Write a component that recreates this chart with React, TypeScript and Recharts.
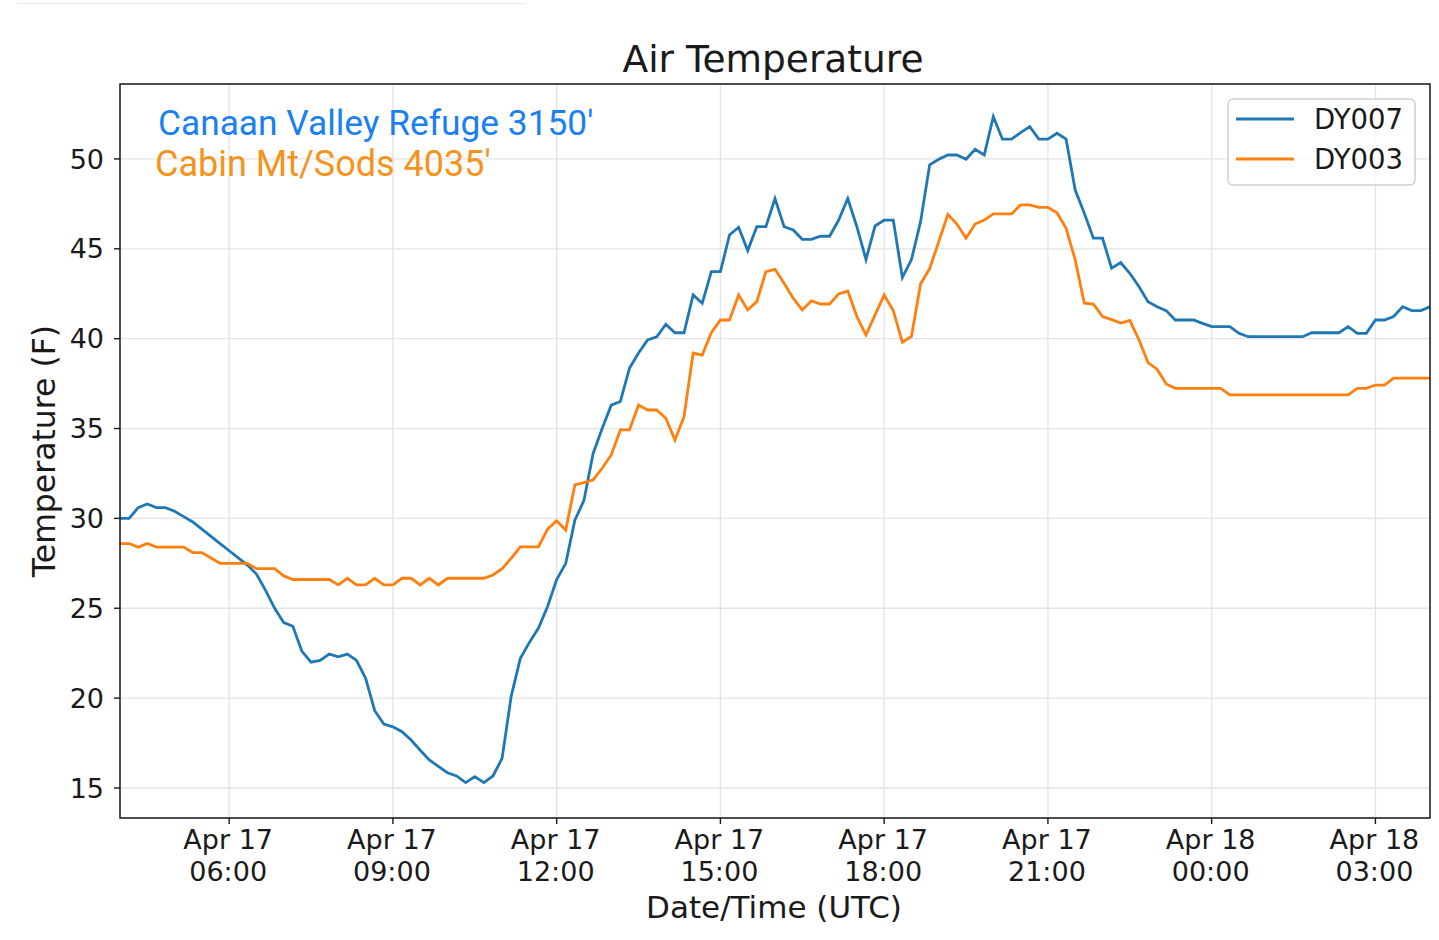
import { CartesianGrid, Legend, Line, LineChart, XAxis, YAxis } from 'recharts';

// Air temperature (F), one reading every 10 minutes, Apr 17 04:00 -> Apr 18 04:00 UTC
const START_HOUR = 4;
const STEP_HOURS = 10 / 60;

const dy007 = [
    30.0, 30.0, 30.6, 30.8, 30.6, 30.6,
    30.4, 30.1, 29.8, 29.4, 29.0, 28.6,
    28.2, 27.8, 27.4, 26.9, 26.0, 25.0,
    24.2, 24.0, 22.6, 22.0, 22.1, 22.45,
    22.3, 22.45, 22.1, 21.1, 19.3, 18.56,
    18.4, 18.13, 17.67, 17.1, 16.56, 16.2,
    15.85, 15.67, 15.3, 15.63, 15.3, 15.67,
    16.65, 20.1, 22.2, 23.1, 23.9, 25.1,
    26.6, 27.5, 29.9, 31.0, 33.6, 35.0,
    36.3, 36.5, 38.35, 39.2, 39.93, 40.1,
    40.8, 40.33, 40.33, 42.43, 41.97, 43.73,
    43.73, 45.77, 46.2, 44.9, 46.23, 46.23,
    47.8, 46.23, 46.05, 45.53, 45.53, 45.7,
    45.7, 46.6, 47.8, 46.23, 44.4, 46.27,
    46.6, 46.6, 43.4, 44.4, 46.5, 49.67,
    49.98, 50.22, 50.22, 49.98, 50.54, 50.22,
    52.35, 51.1, 51.1, 51.46, 51.8, 51.1,
    51.1, 51.43, 51.1, 48.27, 46.98, 45.59,
    45.59, 43.92, 44.23, 43.64, 42.9, 42.06,
    41.78, 41.56, 41.04, 41.04, 41.04, 40.85,
    40.67, 40.67, 40.67, 40.3, 40.11, 40.11,
    40.11, 40.11, 40.11, 40.11, 40.11, 40.33,
    40.33, 40.33, 40.33, 40.67, 40.3, 40.3,
    41.04, 41.04, 41.23, 41.78, 41.56, 41.56,
    41.78,
];

const dy003 = [
    28.6, 28.6, 28.4, 28.6, 28.4, 28.4,
    28.4, 28.4, 28.1, 28.1, 27.8, 27.5,
    27.5, 27.5, 27.5, 27.2, 27.2, 27.2,
    26.8, 26.6, 26.6, 26.6, 26.6, 26.6,
    26.3, 26.67, 26.3, 26.3, 26.67, 26.3,
    26.3, 26.67, 26.67, 26.3, 26.67, 26.3,
    26.67, 26.67, 26.67, 26.67, 26.67, 26.85,
    27.2, 27.78, 28.42, 28.42, 28.42, 29.4,
    29.87, 29.35, 31.86, 31.99, 32.14, 32.79,
    33.53, 34.92, 34.92, 36.31, 36.03, 36.03,
    35.57, 34.36, 35.66, 39.2, 39.09, 40.33,
    41.04, 41.04, 42.43, 41.6, 42.06, 43.73,
    43.86, 43.08, 42.25, 41.6, 42.11, 41.93,
    41.93, 42.49, 42.65, 41.23, 40.2, 41.32,
    42.43, 41.56, 39.8, 40.13, 43.04, 43.9,
    45.4, 46.92, 46.38, 45.59, 46.38, 46.6,
    46.94, 46.94, 46.94, 47.44, 47.44, 47.31,
    47.31, 47.01, 46.14, 44.38, 41.97, 41.93,
    41.23, 41.06, 40.87, 41.02, 39.95, 38.67,
    38.3, 37.48, 37.24, 37.24, 37.24, 37.24,
    37.24, 37.24, 36.87, 36.87, 36.87, 36.87,
    36.87, 36.87, 36.87, 36.87, 36.87, 36.87,
    36.87, 36.87, 36.87, 36.87, 37.24, 37.24,
    37.42, 37.42, 37.8, 37.8, 37.8, 37.8,
    37.8,
];

// hours since Apr 17 00:00 UTC
const majorTicks = [6, 9, 12, 15, 18, 21, 24, 27];
const tickDates = ['Apr 17', 'Apr 17', 'Apr 17', 'Apr 17', 'Apr 17', 'Apr 17', 'Apr 18', 'Apr 18'];
const tickTimes = ['06:00', '09:00', '12:00', '15:00', '18:00', '21:00', '00:00', '03:00'];
const minorTicks = [4, 5, 7, 8, 10, 11, 13, 14, 16, 17, 19, 20, 22, 23, 25, 26, 28];
const yTicks = [15, 20, 25, 30, 35, 40, 45, 50];

const seriesNames = ['DY007', 'DY003'];

const data = dy007.map((v, i) => ({
    t: START_HOUR + i * STEP_HOURS,
    DY007: v,
    DY003: dy003[i],
}));

const BLUE = '#1f77b4';
const ORANGE = '#ff7f0e';
const INK = '#1a1a1a';
const FONT = '"DejaVu Sans", sans-serif';

const DateTick = ({ x, y, payload }: any) => {
    const i = majorTicks.indexOf(payload.value);
    return (
        <g transform={`translate(${x},${y})`}>
            <text textAnchor="middle" fontFamily={FONT} fontSize={27} fill={INK}>
                <tspan x={-1} dy={23}>{tickDates[i]}</tspan>
                <tspan x={-1} dy={32}>{tickTimes[i]}</tspan>
            </text>
        </g>
    );
};

const LegendBox = () => (
    <svg width={190} height={90}>
        <rect x={1} y={1} width={187} height={86} rx={5} fill="#fff" fillOpacity={0.8} stroke="#d0d0d0" strokeWidth={1.5} />
        <line x1={9} x2={67} y1={21} y2={21} stroke={BLUE} strokeWidth={2.8} />
        <line x1={9} x2={67} y1={61} y2={61} stroke={ORANGE} strokeWidth={2.8} />
        <text x={87} y={31} fontFamily={FONT} fontSize={27.5} fill={INK}>{seriesNames[0]}</text>
        <text x={87} y={71} fontFamily={FONT} fontSize={27.5} fill={INK}>{seriesNames[1]}</text>
    </svg>
);

export default function App() {
    return (
        <div style={{ position: 'absolute', left: 0, top: 0, width: 1439, height: 940, background: '#fff' }}>
            <LineChart width={1439} height={940} data={data} margin={{ top: 84, right: 9, left: 0, bottom: 0 }}>
                <CartesianGrid stroke="#e3e3e3" strokeWidth={1.3} />
                <XAxis
                    xAxisId="minor"
                    dataKey="t"
                    type="number"
                    domain={[4, 28]}
                    ticks={minorTicks}
                    allowDataOverflow
                    height={0}
                    axisLine={false}
                    tick={false}
                    tickSize={4}
                    tickLine={{ stroke: INK, strokeWidth: 1.4 }}
                />
                <XAxis
                    dataKey="t"
                    type="number"
                    domain={[4, 28]}
                    ticks={majorTicks}
                    allowDataOverflow
                    height={122}
                    tickSize={6}
                    tickMargin={2}
                    axisLine={false}
                    tickLine={{ stroke: INK, strokeWidth: 1.4 }}
                    tick={<DateTick />}
                    interval={0}
                />
                <YAxis
                    type="number"
                    domain={[13.33, 54.17]}
                    ticks={yTicks}
                    allowDataOverflow
                    width={120}
                    tickSize={6}
                    tickMargin={10}
                    axisLine={false}
                    tickLine={{ stroke: INK, strokeWidth: 1.4 }}
                    tick={{ fill: INK, fontSize: 27, fontFamily: FONT }}
                    interval={0}
                />
                <Legend
                    layout="vertical"
                    align="center"
                    verticalAlign="middle"
                    content={<LegendBox />}
                    wrapperStyle={{ left: 1227, top: 98, width: 190, height: 90 }}
                />
                <Line type="linear" dataKey="DY007" stroke={BLUE} strokeWidth={2.8} dot={false} isAnimationActive={false} />
                <Line type="linear" dataKey="DY003" stroke={ORANGE} strokeWidth={2.8} dot={false} isAnimationActive={false} />
            </LineChart>
            <svg
                width={1439}
                height={940}
                style={{ position: 'absolute', left: 0, top: 0, pointerEvents: 'none' }}
            >
                <line x1={17} x2={525} y1={3.5} y2={3.5} stroke="#ececec" strokeWidth={1} />
                <rect x={120} y={84} width={1310} height={734} fill="none" stroke={INK} strokeWidth={1.5} />
                <text x={773} y={72} textAnchor="middle" fontFamily={FONT} fontSize={37.5} fill={INK}>
                    Air Temperature
                </text>
                <text x={774} y={918} textAnchor="middle" fontFamily={FONT} fontSize={31} fill={INK}>
                    Date/Time (UTC)
                </text>
                <text
                    transform="translate(55,451) rotate(-90)"
                    textAnchor="middle"
                    fontFamily={FONT}
                    fontSize={31.5}
                    fill={INK}
                >
                    Temperature (F)
                </text>
                <text x={158} y={135} fontFamily="Roboto, sans-serif" fontSize={35.3} fill="#1a7ff2">
                    Canaan Valley Refuge 3150'
                </text>
                <text x={155} y={176} fontFamily="Roboto, sans-serif" fontSize={36} fill="#f5931c">
                    Cabin Mt/Sods 4035'
                </text>
            </svg>
        </div>
    );
}
